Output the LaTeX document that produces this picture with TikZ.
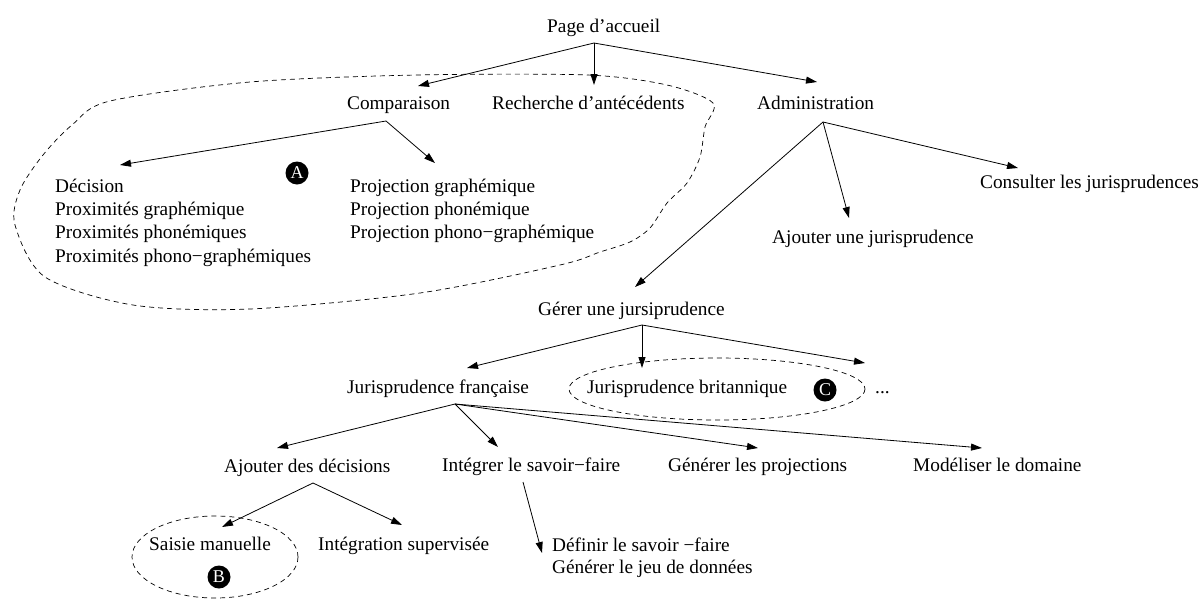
\documentclass[tikz,border=0pt]{standalone}
\usepackage{fontspec}
\setmainfont{Liberation Serif}
\usetikzlibrary{arrows.meta}
\begin{document}
\begin{tikzpicture}[x=1pt,y=-1pt,
  lbl/.style={anchor=base west,inner sep=0pt,font=\fontsize{19.3}{23.3}\selectfont},
  arr/.style={line width=0.8pt,-{Triangle[length=11pt,width=7pt]}},
  blob/.style={dash pattern=on 5pt off 4pt,line width=0.7pt},
  badge/.style={circle,fill=black,text=white,inner sep=0pt,minimum size=23pt,font=\fontsize{18}{18}\selectfont}]
\useasboundingbox (0,0) rectangle (1202,600);

% nodes
\node[lbl] (page) at (547,32) {Page d’accueil};
\node[lbl] (comp) at (347,109) {Comparaison};
\node[lbl] (rech) at (492,109) {Recherche d’antécédents};
\node[lbl] (admin) at (757,109) {Administration};
\node[lbl] (dec1) at (55,192) {Décision};
\node[lbl] (dec2) at (55,215) {Proximités graphémique};
\node[lbl] (dec3) at (55,238) {Proximités phonémiques};
\node[lbl] (dec4) at (55,262) {Proximités phono−graphémiques};
\node[lbl] (proj1) at (350,192) {Projection graphémique};
\node[lbl] (proj2) at (350,215) {Projection phonémique};
\node[lbl] (proj3) at (350,238) {Projection phono−graphémique};
\node[lbl] (cons) at (980,188) {Consulter les jurisprudences};
\node[lbl] (ajj) at (772,243) {Ajouter une jurisprudence};
\node[lbl] (gerer) at (538,315) {Gérer une jursiprudence};
\node[lbl] (fr) at (347,393) {Jurisprudence française};
\node[lbl] (br) at (587,393) {Jurisprudence britannique};
\node[lbl] (dots) at (875,393) {...};
\node[lbl] (ajd) at (224,472) {Ajouter des décisions};
\node[lbl] (integ) at (442,471) {Intégrer le savoir−faire};
\node[lbl] (genp) at (668,471) {Générer les projections};
\node[lbl] (mod) at (913,471) {Modéliser le domaine};
\node[lbl] (saisie) at (149,550) {Saisie manuelle};
\node[lbl] (intsup) at (318,550) {Intégration supervisée};
\node[lbl] (def1) at (552,551) {Définir le savoir −faire};
\node[lbl] (def2) at (552,573) {Générer le jeu de données};

\node[badge] (bA) at (297,173) {A};
\node[badge] (bB) at (219,577) {B};
\node[badge] (bC) at (825,390) {C};

% connector points
\coordinate (sPage) at (594,43);
\coordinate (tComp) at (418,86);
\coordinate (tRech) at (594,85);
\coordinate (tAdmin) at (817,82);
\coordinate (sComp) at (386,121);
\coordinate (tDec) at (120,165);
\coordinate (tProj) at (435,163);
\coordinate (sAdmin) at (823,122);
\coordinate (tCons) at (1018,168);
\coordinate (tAjj) at (849,218);
\coordinate (tGerer) at (635,287);
\coordinate (sGerer) at (642,325);
\coordinate (tFr) at (467,368);
\coordinate (tBr) at (642,368);
\coordinate (tDots) at (865,363);
\coordinate (sFr) at (455,404);
\coordinate (tAjd) at (277,448);
\coordinate (tInteg) at (498,447);
\coordinate (tGenp) at (758,448);
\coordinate (tMod) at (982,448);
\coordinate (sAjd) at (313,483);
\coordinate (tSaisie) at (222,527);
\coordinate (tIntsup) at (402,525);
\coordinate (sInteg) at (523,482);
\coordinate (tDef) at (542,553);

\draw[arr] (sPage) -- (tComp);
\draw[arr] (sPage) -- (tRech);
\draw[arr] (sPage) -- (tAdmin);
\draw[arr] (sComp) -- (tDec);
\draw[arr] (sComp) -- (tProj);
\draw[arr] (sAdmin) -- (tCons);
\draw[arr] (sAdmin) -- (tAjj);
\draw[arr] (sAdmin) -- (tGerer);
\draw[arr] (sGerer) -- (tFr);
\draw[arr] (sGerer) -- (tBr);
\draw[arr] (sGerer) -- (tDots);
\draw[arr] (sFr) -- (tAjd);
\draw[arr] (sFr) -- (tInteg);
\draw[arr] (sFr) -- (tGenp);
\draw[arr] (sFr) -- (tMod);
\draw[arr] (sAjd) -- (tSaisie);
\draw[arr] (sAjd) -- (tIntsup);
\draw[arr] (sInteg) -- (tDef);

% dashed groupings
\draw[blob] plot[smooth cycle,tension=0.5] coordinates {
 (417,75) (587,75) (667,85) (713,103) (705,127) (700,157) (687,183) (667,203)
 (650,228) (630,242) (600,252) (560,265) (420,293) (250,309) (133,305) (45,277)
 (15,225) (20,190) (43,155) (72,125) (110,101) (250,82)};
\draw[blob] (717,389) ellipse [x radius=148,y radius=31];
\draw[blob] (215,557) ellipse [x radius=83,y radius=41];
\end{tikzpicture}
\end{document}
